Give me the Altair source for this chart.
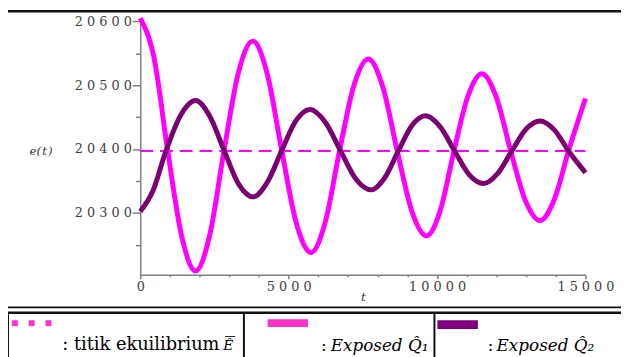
import altair as alt
import pandas as pd

# ---- data ----
t_q1 = [0, 466, 931, 1397, 1862, 2344, 2827, 3309, 3791, 4282, 4772, 5263, 5753,
        6235, 6718, 7200, 7682, 8173, 8663, 9154, 9644, 10110, 10575, 11041, 11506,
        11997, 12487, 12978, 13468, 13950, 14435, 15000]
e_q1 = [20605, 20542, 20395, 20263, 20209, 20266, 20399, 20520, 20569, 20517, 20396,
        20283, 20238, 20286, 20398, 20500, 20541, 20497, 20396, 20302, 20264, 20304,
        20398, 20483, 20518, 20481, 20396, 20319, 20288, 20321, 20398, 20479]

t_q2 = [0, 430, 865, 1360, 1862, 2346, 2831, 3315, 3800, 4280, 4760, 5240, 5720,
        6235, 6750, 7265, 7780, 8238, 8695, 9153, 9610, 10100, 10590, 11080, 11570,
        12045, 12520, 12995, 13470, 13950, 14430, 15000]
e_q2 = [20302, 20335, 20397, 20453, 20476, 20451, 20397, 20345, 20325, 20348, 20397,
        20444, 20462, 20442, 20397, 20353, 20336, 20355, 20397, 20437, 20452, 20435,
        20397, 20360, 20346, 20362, 20397, 20431, 20444, 20430, 20397, 20363]

t_eq = [0, 15000]
e_eq = [20397, 20397]

x_ticks = list(range(0, 15001, 1000))
y_ticks = list(range(20250, 20601, 50))

series_names = ["Q1", "Q2"]
series_colors = ["#FF00FF", "#7A0072"]

df = pd.concat([
    pd.DataFrame({"t": t_q1, "e": e_q1, "s": "Q1"}),
    pd.DataFrame({"t": t_q2, "e": e_q2, "s": "Q2"}),
])
df_eq = pd.DataFrame({"t": t_eq, "e": e_eq})

W, H = 451, 260
AX = "#7f7f7f"
LAB = "#404040"
SP = "\u2008"
HS = "\u200a"
SERIF = "DejaVu Serif"

xs = alt.Scale(domain=[0, 15000], nice=False, zero=False)
ys = alt.Scale(domain=[20203, 20605], nice=False, zero=False)

x_axis = alt.Axis(
    values=x_ticks,
    labelExpr="datum.value % 5000 === 0 ? join(split(format(datum.value, 'd'), ''), '" + SP + "') : ''",
    tickSize={"condition": {"test": "datum.value % 5000 === 0", "value": 4}, "value": 2},
    labelFlush=False, labelOverlap=False, labelPadding=2,
    labelFont="DejaVu Serif", labelFontSize=13, labelColor=LAB,
    domainColor=AX, domainWidth=1.5, tickColor=AX, tickWidth=1.5, grid=False,
    title="t", titleFont="DejaVu Serif", titleFontStyle="italic", titleFontWeight="normal",
    titleFontSize=12, titleColor="#333333", titleY=22, titleBaseline="middle",
)
y_axis = alt.Axis(
    values=y_ticks,
    labelExpr="datum.value % 100 === 0 ? join(split(format(datum.value, 'd'), ''), '" + SP + "') : ''",
    tickSize={"condition": {"test": "datum.value % 100 === 0", "value": 8}, "value": 5},
    labelOverlap=False, labelPadding=1,
    labelFont="DejaVu Serif", labelFontSize=13, labelColor=LAB,
    domainColor=AX, domainWidth=1.5, tickColor=AX, tickWidth=1.5, grid=False,
    title="e(" + HS + "t" + HS + ")", titleAngle=0, titleX=-101, titleY=134,
    titleAlign="center", titleBaseline="middle",
    titleFont="DejaVu Serif", titleFontStyle="italic", titleFontWeight="normal",
    titleFontSize=12, titleColor="#333333",
)

eq_line = alt.Chart(df_eq).mark_line(color="#FF00FF", strokeWidth=2, strokeDash=[13, 7]).encode(
    x=alt.X("t:Q", scale=xs, axis=x_axis),
    y=alt.Y("e:Q", scale=ys, axis=y_axis),
)

curves = alt.Chart(df).mark_line(strokeWidth=5, interpolate="monotone").encode(
    x=alt.X("t:Q", scale=xs, axis=x_axis),
    y=alt.Y("e:Q", scale=ys, axis=y_axis),
    color=alt.Color("s:N", scale=alt.Scale(domain=series_names, range=series_colors), legend=None),
    order=alt.Order("t:Q"),
)

deco_df = pd.DataFrame({"k": [0]})
layers = [eq_line, curves]

# frame and legend table (decoration)
hlines = [(-135, 487, -7, 2.5, "#111111"), (-135, 487, 293, 2, "#111111"),
          (-134, 487, 298.5, 2.5, "#111111"), (86, 96, 322.5, 1, "#222222")]
vlines = [(-135, -7, 293, 2), (-134, 298.5, 350, 2), (105, 298.5, 350, 2), (298, 298.5, 350, 2)]
for x1, x2, y, w, c in hlines:
    layers.append(alt.Chart(deco_df).mark_rule(color=c, strokeWidth=w).encode(
        x=alt.value(x1), x2=alt.value(x2), y=alt.value(y)))
for x, y1, y2, w in vlines:
    layers.append(alt.Chart(deco_df).mark_rule(color="#111111", strokeWidth=w).encode(
        x=alt.value(x), y=alt.value(y1), y2=alt.value(y2)))

# legend swatches
for xa in (-130, -113, -96):
    layers.append(alt.Chart(deco_df).mark_rect(color="#FF33CC").encode(
        x=alt.value(xa), x2=alt.value(xa + 6), y=alt.value(306), y2=alt.value(312)))
layers.append(alt.Chart(deco_df).mark_rect(color="#FF33CC").encode(
    x=alt.value(129), x2=alt.value(170), y=alt.value(305), y2=alt.value(313)))
layers.append(alt.Chart(deco_df).mark_rect(color="#800080").encode(
    x=alt.value(301), x2=alt.value(342), y=alt.value(306), y2=alt.value(315)))

def txt(s, x, y, italic=False, size=17):
    return alt.Chart(deco_df).mark_text(
        text=s, align="left", baseline="alphabetic", font=SERIF,
        fontSize=size, fontStyle="italic" if italic else "normal", color="#000000",
    ).encode(x=alt.value(x), y=alt.value(y))

layers += [
    txt(": titik ekuilibrium", -79, 336, size=18),
    txt("E\u0302", 84, 336, italic=True, size=14),
    txt(":", 183, 337),
    txt("Exposed Q\u0302\u2081", 193, 337, italic=True),
    txt(":", 352, 337),
    txt("Exposed Q\u0302\u2082", 361, 337, italic=True),
]

chart = alt.layer(*layers).properties(
    width=W, height=H,
    autosize=alt.AutoSizeParams(type="none"),
    padding={"left": 134, "top": 8, "right": 36, "bottom": 81},
    background="white",
).configure_view(stroke=None)

chart.save("out.html", embed_options={"renderer": "svg", "actions": False})
